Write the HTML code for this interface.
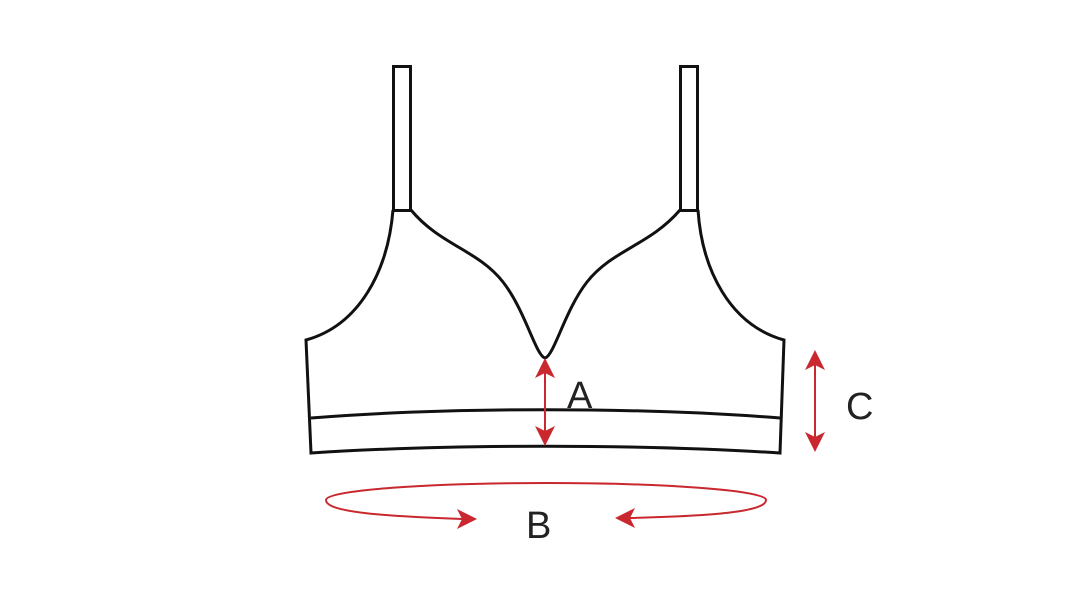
<!DOCTYPE html>
<html><head><style>html,body{margin:0;padding:0;background:#fff}</style></head>
<body>
<svg width="1080" height="589" viewBox="0 0 1080 589" xmlns="http://www.w3.org/2000/svg">
<g fill="none" stroke="#111" stroke-width="3" stroke-linejoin="miter">
<rect x="393.5" y="66.5" width="17" height="144"/>
<rect x="680.5" y="66.5" width="17" height="144"/>
<path d="M393,210 C388,270 360,325 306,340 L311,453 C450,444 640,444 780,453 L784,340 C730,325 702,270 698,210"/>
<path d="M411,210 C440,245 478,250 503,282 C525,310 536,356 545,358 C554,356 565,310 587,282 C612,250 650,245 680,210"/>
<path d="M311,418 C450,407 640,407 780,418"/>
</g>
<g stroke="#c8282e" stroke-width="2" fill="none">
<line x1="545" y1="372" x2="545" y2="432"/>
<line x1="815" y1="362" x2="815" y2="440"/>
<path d="M462,519 C380,516 326,512 326,500 C326,490 430,483 546,483 C660,483 766,490 766,500 C766,512 710,516 630,518"/>
</g>
<g fill="#c8282e">
<polygon points="545,358 535,378 545,373 555,378"/>
<polygon points="545,446 535,426 545,431 555,426"/>
<polygon points="815,350 805,370 815,365 825,370"/>
<polygon points="815,452 805,432 815,437 825,432"/>
<polygon points="477,519 457,509 462,519 457,529"/>
<polygon points="615,518 635,508 630,518 635,528"/>
</g>
<g font-family="Liberation Sans, sans-serif" font-size="38" fill="#222">
<text x="567" y="408">A</text>
<text x="526" y="538">B</text>
<text x="846" y="419">C</text>
</g>
</svg>
</body></html>
